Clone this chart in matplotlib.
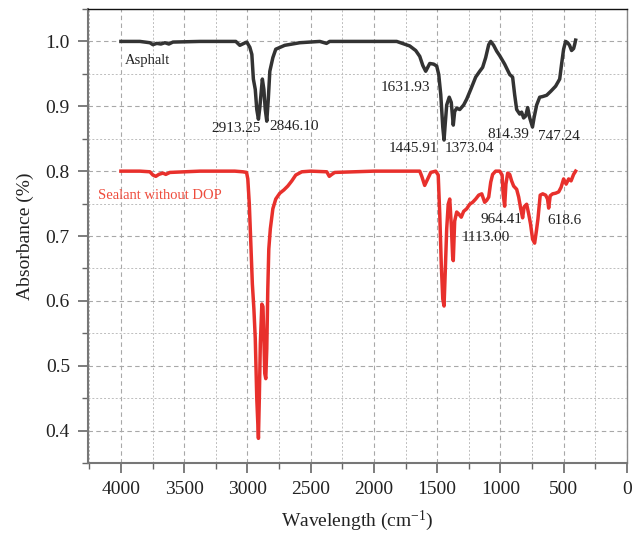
import matplotlib
matplotlib.use("Agg")
import matplotlib.pyplot as plt
from matplotlib.ticker import MultipleLocator
import numpy as np

plt.rcParams['font.family'] = ['Liberation Serif', 'DejaVu Serif']
plt.rcParams['mathtext.fontset'] = 'custom'
plt.rcParams['mathtext.rm'] = 'Liberation Serif'
plt.rcParams['mathtext.it'] = 'Liberation Serif:italic'
plt.rcParams['mathtext.bf'] = 'Liberation Serif:bold'

# ---- data ----
asphalt_wn = [4000, 3850, 3771, 3747, 3716, 3684, 3652, 3621, 3589, 3376, 3092, 3060, 3028, 3005,
              2981, 2965, 2953, 2938, 2926, 2913, 2902, 2882, 2870, 2859, 2847, 2835, 2823, 2799,
              2776, 2705, 2586, 2428, 2375, 2350, 1820, 1717, 1670, 1638, 1614, 1591, 1559, 1528,
              1504, 1488, 1472, 1456, 1446, 1437, 1425, 1405, 1389, 1373, 1362, 1346, 1322, 1291,
              1267, 1235, 1196, 1164, 1141, 1117, 1093, 1077, 1054, 1030, 1006, 967, 927, 904,
              888, 872, 848, 833, 817, 801, 785, 770, 747, 734, 714, 690, 667, 635, 603, 564,
              532, 517, 501, 485, 469, 454, 438, 422, 414, 406]
asphalt_ab = [1.000, 1.000, 0.998, 0.995, 0.997, 0.996, 0.998, 0.996, 0.999, 1.000, 1.000, 0.994, 0.997, 0.999,
              0.991, 0.980, 0.942, 0.926, 0.895, 0.880, 0.898, 0.942, 0.926, 0.895, 0.877, 0.911, 0.954, 0.975,
              0.988, 0.994, 0.998, 1.000, 0.997, 1.000, 1.000, 0.993, 0.986, 0.977, 0.963, 0.954, 0.966, 0.965,
              0.962, 0.949, 0.918, 0.868, 0.848, 0.872, 0.902, 0.914, 0.906, 0.871, 0.892, 0.897, 0.895, 0.902,
              0.911, 0.926, 0.945, 0.954, 0.960, 0.975, 0.995, 1.000, 0.994, 0.985, 0.978, 0.965, 0.949, 0.945,
              0.918, 0.895, 0.888, 0.891, 0.882, 0.885, 0.898, 0.883, 0.868, 0.883, 0.902, 0.914, 0.915, 0.917, 0.923, 0.931,
              0.942, 0.965, 0.988, 1.000, 0.998, 0.994, 0.986, 0.989, 0.995, 1.002]

sealant_wn = [4000, 3850, 3771, 3747, 3724, 3700, 3668, 3645, 3613, 3376, 3100, 3036, 3007, 2997,
              2985, 2973, 2961, 2949, 2938, 2926, 2913, 2906, 2898, 2886, 2877, 2870, 2863, 2855,
              2847, 2839, 2831, 2819, 2799, 2776, 2744, 2712, 2681, 2649, 2618, 2570, 2500, 2373,
              2353, 2333, 2310, 2000, 1717, 1638, 1622, 1599, 1575, 1551, 1512, 1492, 1480, 1468,
              1456, 1446, 1437, 1425, 1413, 1401, 1389, 1378, 1373, 1362, 1346, 1330, 1310, 1291,
              1267, 1243, 1220, 1196, 1172, 1148, 1125, 1109, 1093, 1077, 1062, 1038, 1006, 987,
              979, 967, 957, 943, 927, 912, 896, 872, 856, 840, 825, 813, 793, 777, 762, 746, 730,
              716, 704, 686, 666, 643, 628, 619, 607, 588, 564, 540, 521, 501, 481, 461, 442, 422, 406]
sealant_ab = [0.800, 0.800, 0.799, 0.794, 0.792, 0.795, 0.797, 0.795, 0.798, 0.800, 0.800, 0.799, 0.798, 0.788,
              0.749, 0.688, 0.626, 0.588, 0.542, 0.449, 0.388, 0.449, 0.534, 0.595, 0.591, 0.542, 0.488, 0.480,
              0.526, 0.618, 0.680, 0.711, 0.742, 0.757, 0.766, 0.771, 0.777, 0.785, 0.794, 0.799, 0.800, 0.799,
              0.792, 0.795, 0.798, 0.800, 0.800, 0.800, 0.792, 0.778, 0.788, 0.798, 0.800, 0.794, 0.734, 0.657,
              0.603, 0.592, 0.642, 0.711, 0.749, 0.757, 0.718, 0.668, 0.662, 0.723, 0.737, 0.734, 0.729, 0.738,
              0.742, 0.749, 0.752, 0.757, 0.763, 0.765, 0.752, 0.755, 0.760, 0.783, 0.795, 0.800, 0.800, 0.794,
              0.765, 0.746, 0.780, 0.797, 0.795, 0.785, 0.777, 0.772, 0.760, 0.742, 0.728, 0.745, 0.749, 0.734, 0.718, 0.695, 0.689,
              0.708, 0.726, 0.763, 0.765, 0.763, 0.757, 0.743, 0.762, 0.765, 0.766, 0.768, 0.775, 0.788, 0.780, 0.788, 0.785, 0.795, 0.800]

series_names = ["Asphalt", "Sealant without DOP"]
x_ticks = [4000, 3500, 3000, 2500, 2000, 1500, 1000, 500, 0]
y_ticks = [0.4, 0.5, 0.6, 0.7, 0.8, 0.9, 1.0]

# peak labels: (text, x, y)
asphalt_peaks = [("2913.25", 3092, 0.865), ("2846.10", 2633, 0.869), ("1631.93", 1749, 0.929),
                 ("1445.91", 1690, 0.835), ("1373.04", 1243, 0.835), ("814.39", 935, 0.857),
                 ("747.24", 540, 0.854)]
sealant_peaks = [("964.41", 993, 0.726), ("1113.00", 1114, 0.697), ("618.6", 493, 0.724)]

BLACK = '#333333'
RED = '#e8302c'

fig = plt.figure(figsize=(6.39, 5.36), dpi=100)
ax = fig.add_axes([88/639, 73/536, (627-88)/639, (463-9)/536])

ax.plot(asphalt_wn, asphalt_ab, color=BLACK, lw=2.5, solid_joinstyle='round', zorder=3)
ax.plot(sealant_wn, sealant_ab, color=RED, lw=2.5, solid_joinstyle='round', zorder=3)

ax.set_xlim(4260, 0)
ax.set_ylim(0.35, 1.05)
ax.set_xticks(x_ticks)
ax.set_yticks(y_ticks)
ax.set_yticklabels([f"{v:.1f}" for v in y_ticks])
ax.xaxis.set_minor_locator(MultipleLocator(250))
ax.yaxis.set_minor_locator(MultipleLocator(0.05))

ax.grid(which='major', color='#a8a8a8', linestyle=(0, (4, 3)), lw=0.8)
ax.grid(which='minor', color='#bdbdbd', linestyle=(0, (2, 2)), lw=0.7)
ax.set_axisbelow(True)

ax.tick_params(which='major', direction='out', length=7, width=1.2, color='#666666',
               labelsize=14, pad=6, colors='#222222')
ax.tick_params(which='minor', direction='out', length=4, width=1.0, color='#666666')
ax.tick_params(which='both', top=False, right=False)
for s in ['left', 'bottom']:
    ax.spines[s].set_color('#777777')
    ax.spines[s].set_linewidth(1.5)
ax.spines['top'].set_color('#111111')
ax.spines['top'].set_linewidth(1.0)
ax.spines['right'].set_color('#888888')
ax.spines['right'].set_linewidth(1.0)

ax.set_xlabel("Wavelength (cm$^{\\mathregular{-1}}$)", fontsize=14, color='#222222', labelpad=8)
ax.set_ylabel("Absorbance (%)", fontsize=14, color='#222222', labelpad=8)

ax.text(3968, 0.971, series_names[0], fontsize=10.5, color='#222222', ha='left', va='center')
ax.text(4179, 0.763, series_names[1], fontsize=10.5, color='#ee4b3c', ha='left', va='center')
for t, x, y in asphalt_peaks + sealant_peaks:
    ax.text(x, y, t, fontsize=11, color='#222222', ha='center', va='center')

fig.savefig("out.png", dpi=100)
